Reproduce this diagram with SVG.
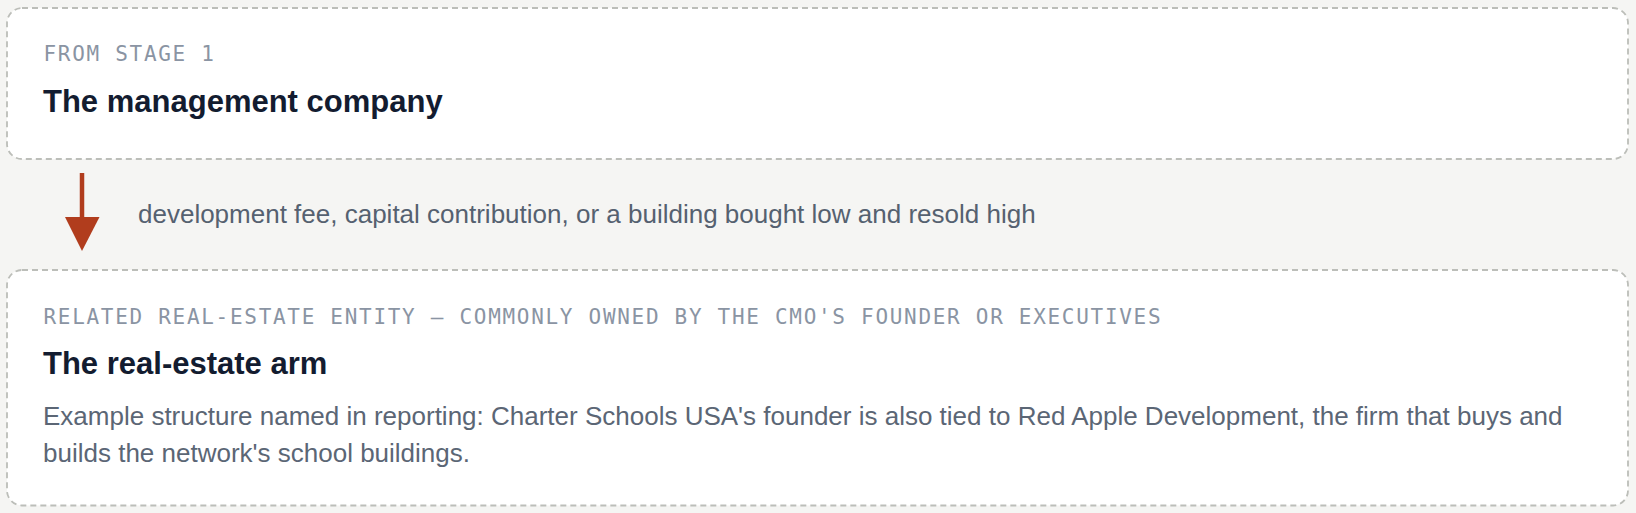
<svg xmlns="http://www.w3.org/2000/svg" width="1636" height="513" viewBox="0 0 1636 513">
  <defs>
    <style>
      .box { fill: #ffffff; stroke: #bcbeb9; stroke-width: 1.8; stroke-dasharray: 6 4; }
      .eyebrow { font-family: "DejaVu Sans Mono", "Liberation Mono", monospace; font-size: 21px; letter-spacing: 1.7px; fill: #8a94a3; }
      .title { font-family: "Liberation Sans", Arial, sans-serif; font-size: 31px; font-weight: bold; fill: #131c30; }
      .body { font-family: "Liberation Sans", Arial, sans-serif; font-size: 26px; fill: #5b6675; }
      .label { font-family: "Liberation Sans", Arial, sans-serif; font-size: 26px; fill: #556170; }
      .arrow { stroke: #b13d1d; stroke-width: 4.5; fill: none; }
    </style>
  </defs>
  <rect width="1636" height="513" fill="#f5f5f3"/>

  <g id="node-management">
    <rect class="box" x="7" y="8" width="1621" height="151" rx="15" ry="15"/>
    <text class="eyebrow" x="43.5" y="61">FROM STAGE 1</text>
    <text class="title" x="43" y="112">The management company</text>
  </g>

  <g id="connectors">
    <line class="arrow" x1="82" y1="173" x2="82" y2="218"/>
    <path d="M65,217 L99.5,217 L82,251 Z" fill="#b13d1d"/>
    <text class="label" x="138" y="223">development fee, capital contribution, or a building bought low and resold high</text>
  </g>

  <g id="node-realestate">
    <rect class="box" x="7" y="270" width="1621" height="235.5" rx="15" ry="15"/>
    <text class="eyebrow" x="43.5" y="323.5">RELATED REAL-ESTATE ENTITY — COMMONLY OWNED BY THE CMO'S FOUNDER OR EXECUTIVES</text>
    <text class="title" x="43" y="374">The real-estate arm</text>
    <text class="body" x="43" y="425">Example structure named in reporting: Charter Schools USA's founder is also tied to Red Apple Development, the firm that buys and</text>
    <text class="body" x="43" y="461.5">builds the network's school buildings.</text>
  </g>
</svg>
